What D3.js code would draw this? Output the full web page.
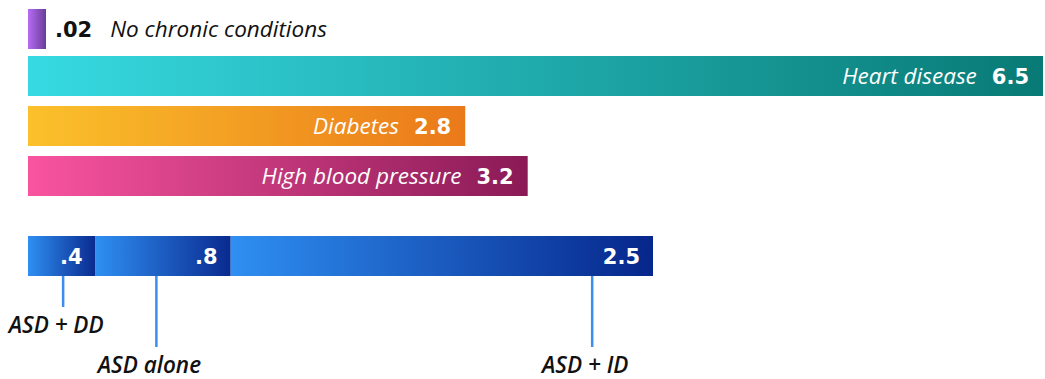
<!DOCTYPE html>
<html>
<head>
<meta charset="utf-8">
<script src="https://cdn.jsdelivr.net/npm/d3@7"></script>
<style>
  html, body { margin: 0; padding: 0; background: #fff; }
  svg { display: block; }
</style>
</head>
<body>
<svg id="chart" width="1045" height="379"></svg>
<script>
// Chronic conditions
const conditions = ["No chronic conditions", "Heart disease", "Diabetes", "High blood pressure"];
const conditionValues = [0.02, 6.5, 2.8, 3.2];
const conditionValueLabels = [".02", "6.5", "2.8", "3.2"];

// ASD groups (stacked bar)
const asdGroups = ["ASD + DD", "ASD alone", "ASD + ID"];
const asdValues = [0.4, 0.8, 2.5];
const asdValueLabels = [".4", ".8", "2.5"];

// Gradient stops per bar (left, right)
const conditionColors = [
  ["#b66cf3", "#6a3c98"],
  ["#37dae2", "#087a75"],
  ["#fbc12b", "#ea791a"],
  ["#f9549f", "#8a1a56"]
];
const asdColors = [
  ["#2f8ff2", "#0a2a8f"],
  ["#2f8ff2", "#0a2a8f"],
  ["#2f8ff2", "#06268b"]
];
// where each leader line leaves its segment (fraction of segment width)
const leaderAnchor = [0.52, 0.45, 0.856];
const leaderBottom = [307, 347, 347];

const svg = d3.select("#chart");
const defs = svg.append("defs");

function gradient(id, stops) {
  const g = defs.append("linearGradient")
    .attr("id", id).attr("x1", "0%").attr("x2", "100%").attr("y1", "0%").attr("y2", "0%");
  g.append("stop").attr("offset", "0%").attr("stop-color", stops[0]);
  g.append("stop").attr("offset", "100%").attr("stop-color", stops[1]);
  return `url(#${id})`;
}

const x = d3.scaleLinear().domain([0, 6.5]).range([28, 1043]);
const y = d3.scaleBand().domain(conditions).range([6, 196]).paddingInner(0.2).paddingOuter(0);
const minBarWidth = 18;
const rowTop = (c, i) => y(c) + (i === 0 ? 3 : 0);

const valueFont = "'DejaVu Sans', Lato, sans-serif";
const valueSize = 21;
const labelFont = "'Open Sans', 'Noto Sans', sans-serif";
const labelSize = 22.5;

const rows = conditions.map((c, i) => ({
  name: c, value: conditionValues[i], label: conditionValueLabels[i], i
}));

// bars
svg.append("g").selectAll("rect")
  .data(rows)
  .join("rect")
  .attr("x", x(0))
  .attr("y", d => rowTop(d.name, d.i))
  .attr("width", d => Math.max(minBarWidth, x(d.value) - x(0)))
  .attr("height", y.bandwidth())
  .attr("fill", d => gradient("grad-c" + d.i, conditionColors[d.i]));

// summary row: value and name outside the small bar
const summary = rows[0];
const summaryY = rowTop(summary.name, 0) + y.bandwidth() / 2;
const summaryEnd = x(0) + Math.max(minBarWidth, x(summary.value) - x(0));
const sumVal = svg.append("text")
  .attr("x", summaryEnd + 9)
  .attr("y", summaryY)
  .attr("dy", "0.36em")
  .attr("font-family", valueFont)
  .attr("font-weight", 700)
  .attr("font-size", valueSize)
  .attr("fill", "#111")
  .text(summary.label);
svg.append("text")
  .attr("x", summaryEnd + 9 + sumVal.node().getComputedTextLength() + 18)
  .attr("y", summaryY)
  .attr("dy", "0.36em")
  .attr("font-family", labelFont)
  .attr("font-style", "italic")
  .attr("font-size", labelSize)
  .attr("fill", "#111")
  .text(summary.name);

// other rows: value and name inside the bar, right aligned
rows.slice(1).forEach(d => {
  const cy = rowTop(d.name, d.i) + y.bandwidth() / 2;
  const v = svg.append("text")
    .attr("x", x(d.value) - 14)
    .attr("y", cy)
    .attr("dy", "0.36em")
    .attr("text-anchor", "end")
    .attr("font-family", valueFont)
    .attr("font-weight", 700)
    .attr("font-size", valueSize)
    .attr("fill", "#fff")
    .text(d.label);
  const vw = v.node().getComputedTextLength();
  svg.append("text")
    .attr("x", x(d.value) - 14 - vw - 15)
    .attr("y", cy)
    .attr("dy", "0.36em")
    .attr("text-anchor", "end")
    .attr("font-family", labelFont)
    .attr("font-style", "italic")
    .attr("font-size", labelSize)
    .attr("fill", "#fff")
    .text(d.name);
});

// ASD stacked bar
const xa = d3.scaleLinear().domain([0, d3.sum(asdValues)]).range([28, 653]);
const asdTop = 236, asdH = 40;
const cum = d3.cumsum(asdValues);
const segs = asdGroups.map((g, i) => ({
  name: g, value: asdValues[i], label: asdValueLabels[i], i,
  start: cum[i] - asdValues[i], end: cum[i]
}));

svg.append("g").selectAll("rect")
  .data(segs)
  .join("rect")
  .attr("x", d => xa(d.start))
  .attr("y", asdTop)
  .attr("width", d => xa(d.end) - xa(d.start))
  .attr("height", asdH)
  .attr("fill", d => gradient("grad-a" + d.i, asdColors[d.i]));

svg.append("g").selectAll("text")
  .data(segs)
  .join("text")
  .attr("x", d => xa(d.end) - 13)
  .attr("y", asdTop + asdH / 2)
  .attr("dy", "0.36em")
  .attr("text-anchor", "end")
  .attr("font-family", valueFont)
  .attr("font-weight", 700)
  .attr("font-size", valueSize)
  .attr("fill", "#fff")
  .text(d => d.label);

// leader lines and group names
const leaderX = d => xa(d.start) + leaderAnchor[d.i] * (xa(d.end) - xa(d.start));
svg.append("g").selectAll("line")
  .data(segs)
  .join("line")
  .attr("x1", leaderX)
  .attr("x2", leaderX)
  .attr("y1", asdTop + asdH)
  .attr("y2", d => leaderBottom[d.i])
  .attr("stroke", "#3a8ef0")
  .attr("stroke-width", 2.5);

svg.append("g").selectAll("text")
  .data(segs)
  .join("text")
  .attr("x", d => leaderX(d) - 7)
  .attr("y", d => leaderBottom[d.i] + 26)
  .attr("text-anchor", "middle")
  .attr("font-family", labelFont)
  .attr("font-style", "italic")
  .attr("font-weight", 600)
  .attr("font-size", labelSize)
  .attr("fill", "#111")
  .text(d => d.name);
</script>
</body>
</html>
